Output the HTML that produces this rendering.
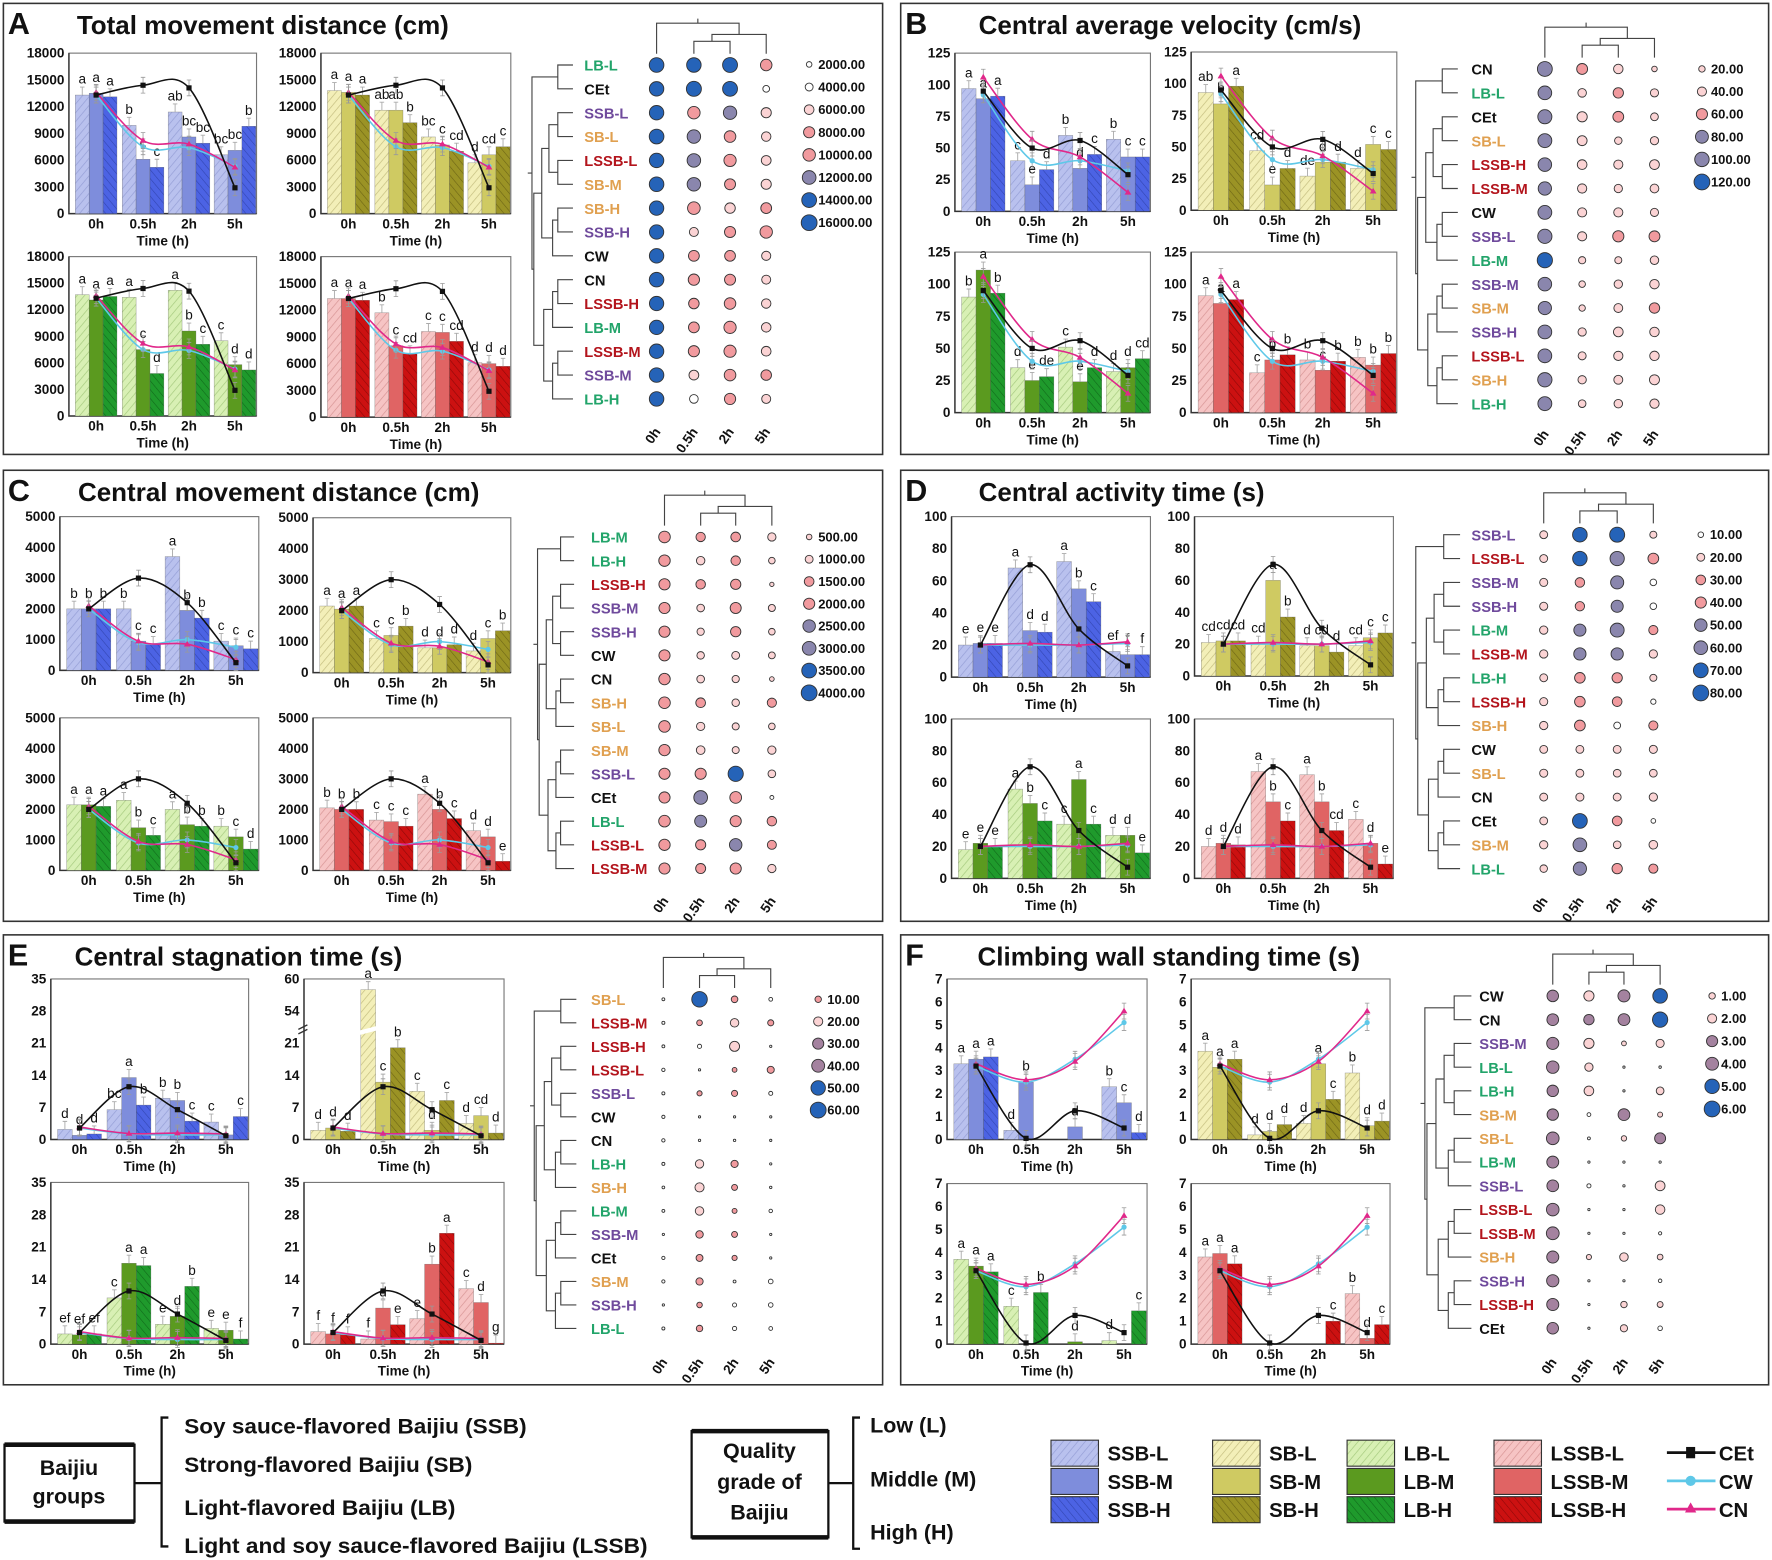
<!DOCTYPE html>
<html><head><meta charset="utf-8">
<style>
html,body{margin:0;padding:0;background:#fff;}
svg{display:block;font-family:"Liberation Sans",Arial,sans-serif;}
</style></head>
<body>
<svg id="fig" width="1772" height="1560" viewBox="0 0 1568 1380" preserveAspectRatio="none" xmlns="http://www.w3.org/2000/svg">
<defs id="defs"></defs>
<rect x="0" y="0" width="1568" height="1380" fill="#fff"></rect>
</svg>
<script>
// ===== DATA =====
const A_ticks=[0,3000,6000,9000,12000,15000,18000];
const A_cet=[13300,14400,14100,2900];
const A_cw=[13300,7500,7400,5300];
const A_cn=[13600,8200,7800,5200];
const A_ssb=[[13300,9900,11400,6600],[13500,6100,8600,7100],[13100,5200,7900,9800]];
const A_ssb_let=[["a","b","ab","bc"],["a","c","bc","bc"],["a","c","bc","b"]];
const A_sb=[[13800,11600,8600,5700],[13600,11600,7700,6600],[13300,10200,7000,7500]];
const A_sb_let=[["a","ab","bc","d"],["a","ab","c","cd"],["a","b","cd","c"]];
const A_lb=[[13700,13400,14200,8500],[13100,7500,9600,5800],[13500,4800,8100,5200]];
const A_lb_let=[["a","a","a","c"],["a","c","b","d"],["a","d","c","d"]];
const A_lssb=[[13300,11700,9600,6100],[13300,8000,9500,6000],[13100,7100,8500,5700]];
const A_lssb_let=[["a","b","c","d"],["a","c","c","d"],["a","cd","cd","d"]];
const A_order=["LB-L","CEt","SSB-L","SB-L","LSSB-L","SB-M","SB-H","SSB-H","CW","CN","LSSB-H","LB-M","LSSB-M","SSB-M","LB-H"];
const A_levels=[2000,4000,6000,8000,10000,12000,14000,16000];

const B_ticks=[0,25,50,75,100,125];
const B_cet=[95,50,56,29];
const B_cw=[92,40,40,32];
const B_cn=[106,57,43,15];
const B_ssb=[[97,40,60,57],[89,21,34,43],[91,33,45,43]];
const B_ssb_let=[["a","c","b","b"],["a","e","d","c"],["a","d","c","c"]];
const B_sb=[[93,47,27,33],[84,20,38,52],[98,33,38,48]];
const B_sb_let=[["ab","cd","de","d"],["b","e","d","c"],["a","d","d","c"]];
const B_lb=[[90,35,51,32],[111,25,24,35],[93,28,35,42]];
const B_lb_let=[["b","d","c","d"],["a","e","e","d"],["b","de","d","cd"]];
const B_lssb=[[91,31,41,43],[85,41,33,37],[88,45,40,46]];
const B_lssb_let=[["a","c","b","b"],["a","b","c","b"],["a","b","b","b"]];
const B_order=["CN","LB-L","CEt","SB-L","LSSB-H","LSSB-M","CW","SSB-L","LB-M","SSB-M","SB-M","SSB-H","LSSB-L","SB-H","LB-H"];
const B_levels=[20,40,60,80,100,120];

const C_ticks=[0,1000,2000,3000,4000,5000];
const C_cet=[2000,3000,2200,250];
const C_cw=[2000,900,1000,750];
const C_cn=[2100,950,850,350];
const C_ssb=[[2000,2000,3700,950],[2000,950,1950,800],[2000,850,1700,700]];
const C_ssb_let=[["b","b","a","c"],["b","c","b","c"],["b","c","b","c"]];
const C_sb=[[2150,1100,800,700],[2050,1200,800,1100],[2150,1500,900,1350]];
const C_sb_let=[["a","c","d","d"],["a","c","d","c"],["a","b","d","b"]];
const C_lb=[[2150,2300,2000,1450],[2150,1400,1500,1100],[2100,1150,1450,700]];
const C_lb_let=[["a","a","a","b"],["a","b","b","c"],["a","c","b","d"]];
const C_lssb=[[2050,1650,2500,1300],[2000,1600,2000,1100],[2000,1450,1700,300]];
const C_lssb_let=[["b","c","a","d"],["b","c","b","d"],["b","c","c","e"]];
const C_order=["LB-M","LB-H","LSSB-H","SSB-M","SSB-H","CW","CN","SB-H","SB-L","SB-M","SSB-L","CEt","LB-L","LSSB-L","LSSB-M"];
const C_levels=[500,1000,1500,2000,2500,3000,3500,4000];

const D_ticks=[0,20,40,60,80,100];
const D_cet=[20,70,30,7];
const D_cw=[20,20,20,21];
const D_cn=[20,21,20,22];
const D_ssb=[[20,68,72,16],[21,29,55,14],[21,28,47,14]];
const D_ssb_let=[["e","a","a","ef"],["e","d","b","f"],["e","d","c","f"]];
const D_sb=[[21,20,19,19],[22,60,19,24],[22,37,15,27]];
const D_sb_let=[["cd","cd","d","cd"],["cd","a","cd","c"],["cd","b","d","c"]];
const D_lb=[[18,56,34,27],[22,47,62,27],[20,36,34,16]];
const D_lb_let=[["e","a","c","d"],["e","b","a","d"],["e","c","c","e"]];
const D_lssb=[[20,67,65,37],[22,48,48,22],[21,36,30,9]];
const D_lssb_let=[["d","a","a","c"],["d","b","b","d"],["d","c","cd","e"]];
const D_order=["SSB-L","LSSB-L","SSB-M","SSB-H","LB-M","LSSB-M","LB-H","LSSB-H","SB-H","CW","SB-L","CN","CEt","SB-M","LB-L"];
const D_levels=[10,20,30,40,50,60,70,80];

const E_ticks=[0,7,14,21,28,35];
const E_ticks_broken=[0,7,14,21,54,60];
const E_cet=[2.5,11.5,6.5,0.8];
const E_cw=[2.5,1.2,1.0,1.0];
const E_cn=[2.7,1.3,1.4,1.2];
const E_ssb=[[2.2,6.5,9,3.8],[0.9,13.5,8.5,1.0],[1.2,7.5,4,5]];
const E_ssb_let=[["d","bc","b","c"],["d","a","b",""],["d","b","c","c"]];
const E_sb=[[2,58,10.5,3.5],[2.5,12.5,2,5.2],[1.8,20,8.5,1.4]];
const E_sb_let=[["d","a","c","d"],["d","c","d","cd"],["d","b","c","d"]];
const E_lb=[[2.2,10,4.3,3.4],[2,17.5,6,3],[2.2,17,12.5,1.1]];
const E_lb_let=[["ef","c","e","e"],["ef","a","d","e"],["ef","a","b","f"]];
const E_lssb=[[2.7,1.1,5.5,12],[2.2,7.8,17.3,9],[2,4.2,24,0.2]];
const E_lssb_let=[["f","f","e","c"],["f","d","b","d"],["f","e","a","g"]];
const E_order=["SB-L","LSSB-M","LSSB-H","LSSB-L","SSB-L","CW","CN","LB-H","SB-H","LB-M","SSB-M","CEt","SB-M","SSB-H","LB-L"];
const E_levels=[10,20,30,40,50,60];

const F_ticks=[0,1,2,3,4,5,6,7];
const F_cet=[3.2,0.05,1.25,0.5];
const F_cw=[3.2,2.5,3.5,5.1];
const F_cn=[3.3,2.6,3.4,5.6];
const F_ssb=[[3.3,0.4,0,2.3],[3.5,2.5,0.55,1.6],[3.6,0,0,0.3]];
const F_ssb_let=[["a","d","","b"],["a","b","d","c"],["a","","","d"]];
const F_sb=[[3.85,0.2,0.7,2.9],[3.15,0.35,3.3,0.6],[3.5,0.65,1.75,0.8]];
const F_sb_let=[["a","d","d","b"],["a","d","a","d"],["a","d","c","d"]];
const F_lb=[[3.7,1.65,0,0.15],[3.4,0,0.1,0],[3.15,2.25,0,1.45]];
const F_lb_let=[["a","c","","d"],["a","","d",""],["a","b","","c"]];
const F_lssb=[[3.8,0,0,2.2],[3.95,0,0,0.25],[3.5,0,1.0,0.85]];
const F_lssb_let=[["a","","","b"],["a","","","d"],["a","","c","c"]];
const F_order=["CW","CN","SSB-M","LB-L","LB-H","SB-M","SB-L","LB-M","SSB-L","LSSB-L","LSSB-M","SB-H","SSB-H","LSSB-H","CEt"];
const F_levels=[1,2,3,4,5,6];

const TIMES=["0h","0.5h","2h","5h"];

// ===== STYLE CONSTANTS =====
const NS="http://www.w3.org/2000/svg";
const svg=document.getElementById('fig');
const defs=document.getElementById('defs');
const FILL={SSB:['#b9c1ee','#7e8ddc','#4c63e4'],SB:['#f3efb8','#cfca62','#9b9325'],LB:['#d8f0b4','#5b9a1f','#1f9a2c'],LSSB:['#f6c4c4','#e06464','#cc1111']};
const HATCH={SSB:['#8c95d0','', '#2a3ca0'],SB:['#b8b070','','#5e5810'],LB:['#98c070','','#0c5a14'],LSSB:['#d08888','','#7a0606']};
const GCOL={SSB:'#6f4a9c',SB:'#e0a050',LB:'#22a46a',LSSB:'#b3141c',C:'#111'};
const W='#ffffff',LP='#fbd3d4',PK='#f19a9e',PU='#8a86ad',MV='#a4829f',BL='#2563b8';
const LEVCOL={A:[W,W,LP,PK,PK,PU,BL,BL],B:[LP,LP,PK,PU,PU,BL],C:[LP,LP,PK,PK,PU,PU,BL,BL],D:[W,LP,PK,PK,PU,PU,BL,BL],E:[PK,LP,MV,MV,BL,BL],F:[LP,LP,MV,MV,BL,BL]};

function mk(tag,parent){const e=document.createElementNS(NS,tag);(parent||svg).appendChild(e);return e;}
function at(e,o){for(const k in o)e.setAttribute(k,o[k]);return e;}
function txt(parent,x,y,s,size,opts){const t=mk('text',parent);at(t,{x:x,y:y,'font-size':size,'font-weight':'bold',fill:'#111'});if(opts)at(t,opts);t.textContent=s;return t;}

['SSB','SB','LB','LSSB'].forEach(g=>{
  [0,2].forEach(i=>{
    const p=mk('pattern',defs);at(p,{id:'h_'+g+i,patternUnits:'userSpaceOnUse',width:5,height:5,patternTransform:i==0?'rotate(40)':'rotate(-40)'});
    const r=mk('rect',p);at(r,{x:0,y:0,width:5,height:5,fill:FILL[g][i]});
    const l=mk('line',p);at(l,{x1:0,y1:0,x2:0,y2:5,stroke:HATCH[g][i],'stroke-width':i==0?1.2:1,'stroke-opacity':0.8});
  });
});
function barFill(g,i){return i==1?FILL[g][1]:'url(#h_'+g+i+')';}

function spline(pts){
  let d='M'+pts[0][0]+','+pts[0][1];
  for(let i=0;i<pts.length-1;i++){
    const p0=pts[Math.max(0,i-1)],p1=pts[i],p2=pts[i+1],p3=pts[Math.min(pts.length-1,i+2)];
    const c1=[p1[0]+(p2[0]-p0[0])/6,p1[1]+(p2[1]-p0[1])/6];
    const c2=[p2[0]-(p3[0]-p1[0])/6,p2[1]-(p3[1]-p1[1])/6];
    d+=' C'+c1[0]+','+c1[1]+' '+c2[0]+','+c2[1]+' '+p2[0]+','+p2[1];
  }
  return d;
}

function drawPlot(parent,rect,ticks,broken,g,vals,lets,cet,cw,cn){
  const [px,py,pw,ph]=rect;
  const ymax=ticks[ticks.length-1];
  const n=ticks.length-1;
  const frac=v=>{
    if(!broken) return v/ymax;
    if(v<=30) return (v/7)/5;
    return (4+(v-54)/6)/5;
  };
  const Y=v=>py+ph-frac(v)*ph;
  const X=i=>px+pw*[0.145,0.395,0.64,0.885][i];
  const bw=pw*0.074;
  const grp=mk('g',parent);
  
  
  const fr=mk('rect',grp);at(fr,{x:px,y:py,width:pw,height:ph,fill:'none',stroke:'#777','stroke-width':1});
  
  
  const ax=mk('path',grp);at(ax,{d:'M'+px+','+py+' V'+(py+ph)+' H'+(px+pw),stroke:'#333','stroke-width':1.3,fill:'none'});
  ticks.forEach((t,k)=>{
    const yy=broken?(py+ph-(k/n)*ph):Y(t);
    const tl=txt(grp,px-4,yy+4,String(t),12,{'text-anchor':'end'});
    
    
  });
  if(broken){
    const by=py+ph*0.3;
    const bm=mk('path',grp);at(bm,{d:'M'+(px-5)+','+(by+2)+' l8,-4 M'+(px-5)+','+(by+6)+' l8,-4',stroke:'#333','stroke-width':1.2,fill:'none'});
    
    
  }
  TIMES.forEach((t,i)=>{
    const xl=txt(grp,X(i),py+ph+13,t,12,{'text-anchor':'middle'});
    
    
  });
  const xt=txt(grp,px+pw/2,py+ph+28,'Time (h)',12,{'text-anchor':'middle'});
  
  
  const err=ymax*0.05;
  for(let s=0;s<3;s++){
    for(let i=0;i<4;i++){
      const v=vals[s][i];
      const bx=X(i)+(s-1)*bw-bw/2;
      const top=Y(v);
      if(v>0){
        const b=mk('rect',grp);at(b,{x:bx,y:top,width:bw,height:py+ph-top,fill:barFill(g,s),stroke:'#555','stroke-width':0.4,'stroke-opacity':0.6});
        
        
        if(broken && v>30){
          const gp=mk('path',grp);at(gp,{d:'M'+(bx-1)+','+(py+ph*0.3+3)+' L'+(bx+bw+1)+','+(py+ph*0.3-1)+' L'+(bx+bw+1)+','+(py+ph*0.3+3)+' L'+(bx-1)+','+(py+ph*0.3+7)+'Z',fill:'#fff'});
        }
        const eb=mk('path',grp);at(eb,{d:'M'+(bx+bw/2)+','+top+' V'+(top-err*ph/ymax)+' M'+(bx+bw/2-2)+','+(top-err*ph/ymax)+' h4',stroke:'#aaa','stroke-width':0.8});
      }
      const L=lets[s][i];
      if(L){
        const lt=txt(grp,bx+bw/2,top-err*ph/ymax-3,L,12,{'text-anchor':'middle','font-weight':'normal'});
        
        
      }
    }
  }
  const series=[[cw,'#5ec8e8','circle','cw'],[cn,'#e0288a','tri','cn'],[cet,'#111','sq','cet']];
  series.forEach(([arr,col,mkr,nm])=>{
    const pts=arr.map((v,i)=>[X(i),Y(v)]);
    const p=mk('path',grp);at(p,{d:spline(pts),stroke:col,'stroke-width':1.4,fill:'none'});
    
    
    pts.forEach(q=>{
      const e=mk('path',grp);at(e,{d:'M'+q[0]+','+(q[1]-7)+' V'+(q[1]+7)+' M'+(q[0]-2)+','+(q[1]-7)+' h4 M'+(q[0]-2)+','+(q[1]+7)+' h4',stroke:'#999','stroke-width':0.7});
      let m;
      if(mkr=='circle'){m=mk('circle',grp);at(m,{cx:q[0],cy:q[1],r:2.3,fill:col});}
      else if(mkr=='tri'){m=mk('path',grp);at(m,{d:'M'+q[0]+','+(q[1]-3)+' l3,5 h-6z',fill:col});}
      else {m=mk('rect',grp);at(m,{x:q[0]-2.3,y:q[1]-2.3,width:4.6,height:4.6,fill:col});}
      
      
    });
  });
}

function drawHeat(parent,h,order,levels,cols,getVals){
  const grp=mk('g',parent);
  
  
  const lmax=levels[levels.length-1];
  const rad=v=>Math.max(1,7*Math.sqrt(Math.max(v,0)/lmax));
  const col=v=>{
    if(v<levels[0]*0.55) return '#fff';
    let best=0,bd=1e18;levels.forEach((l,i)=>{const d=Math.abs(l-v);if(d<bd){bd=d;best=i;}});
    return cols[best];
  };
  order.forEach((name,r)=>{
    const y=h.r0+r*h.dr;
    const g=name.split('-')[0];
    const c=GCOL[g]||GCOL.C;
    const lt=txt(grp,h.lx,y+5,name,13,{fill:c});
    
    
    const vals=getVals(name);
    vals.forEach((v,i)=>{
      const d=mk('circle',grp);at(d,{cx:h.cols[i],cy:y,r:rad(v),fill:col(v),stroke:'#333','stroke-width':0.8});
      
      
    });
  });
  let dp='';
  function node(lo,hi){
    if(lo==hi) return {x:h.d1,y:h.r0+lo*h.dr};
    const mid=(lo==0&&hi-lo>3)?1:Math.floor((lo+hi)/2);
    const a=node(lo,mid),b=node(mid+1,hi);
    const size=hi-lo+1;
    const x=h.d0+(h.d1-h.d0)*(1-Math.log2(size)/Math.log2(16))*0.85;
    dp+='M'+a.x+','+a.y+' H'+x+' V'+b.y+' H'+b.x+' ';
    return {x:x,y:(a.y+b.y)/2};
  }
  const root=node(0,order.length-1);
  dp+='M'+root.x+','+root.y+' H'+(h.d0-3);
  const dd=mk('path',grp);at(dd,{d:dp,stroke:'#444','stroke-width':1,fill:'none'});
  
  
  const b=h.r0-10,c=h.cols;
  const t1=b-11,t2=b-17,t3=b-27;
  const m12=(c[1]+c[2])/2,m3=(m12+c[3])/2,m0=(c[0]+m3)/2;
  const cd='M'+c[1]+','+b+' V'+t1+' H'+c[2]+' V'+b+' M'+m12+','+t1+' V'+t2+' H'+c[3]+' V'+b+' M'+m3+','+t2+' V'+t3+' H'+c[0]+' V'+b+' M'+m0+','+t3+' V'+(t3-4);
  const cdp=mk('path',grp);at(cdp,{d:cd,stroke:'#444','stroke-width':1,fill:'none'});
  
  
  TIMES.forEach((t,i)=>{
    const x=h.cols[i]+4,y=h.cl;
    const tl=txt(grp,x,y,t,12,{'text-anchor':'end',transform:'rotate(-55 '+x+' '+y+')'});
    
    
  });
  levels.forEach((l,i)=>{
    const y=h.g0+i*h.gd;
    const d=mk('circle',grp);at(d,{cx:h.gx,cy:y,r:rad(l),fill:cols[i],stroke:'#333','stroke-width':0.8});
    
    
    const tl=txt(grp,h.gx+8,y+4,l.toFixed(2),11.5);
    
    
  });
}

function panel(id,title,box,titleX,plots,heat,ticks,D){
  const grp=mk('g');
  
  
  const br=mk('rect',grp);at(br,{x:box[0],y:box[1],width:box[2],height:box[3],fill:'none',stroke:'#333','stroke-width':1.4});
  
  
  const pl=txt(grp,box[0]+4,box[1]+27,id,27);
  
  
  const tt=txt(grp,titleX,box[1]+27,title,23);
  
  
  const groups=['SSB','SB','LB','LSSB'];
  groups.forEach((g,k)=>{
    const broken=(id=='E'&&k==1);
    drawPlot(grp,plots[k],broken?E_ticks_broken:ticks,broken,g,D[g][0],D[g][1],D.cet,D.cw,D.cn);
  });
  drawHeat(grp,heat,D.order,D.levels,LEVCOL[id],name=>{
    if(name=='CEt')return D.cet; if(name=='CW')return D.cw; if(name=='CN')return D.cn;
    const [g,q]=name.split('-');return D[g][0][{L:0,M:1,H:2}[q]];
  });
}

panel('A','Total movement distance (cm)',[3,3,778,399],68,
 [[61,47,166,142],[284,47,168,142],[61,227,166,141],[284,227,168,142]],
 {d0:470,d1:507,lx:517,cols:[581,614,646,678],r0:57.5,dr:21.1,gx:716,g0:57,gd:20,cl:382},A_ticks,
 {SSB:[A_ssb,A_ssb_let],SB:[A_sb,A_sb_let],LB:[A_lb,A_lb_let],LSSB:[A_lssb,A_lssb_let],cet:A_cet,cw:A_cw,cn:A_cn,order:A_order,levels:A_levels});
panel('B','Central average velocity (cm/s)',[797,3,768,399],866,
 [[845,47,173,140],[1054,46,182,140],[845,223,173,142],[1054,223,182,142]],
 {d0:1252,d1:1290,lx:1302,cols:[1367,1400,1432,1464],r0:61,dr:21.15,gx:1506,g0:61,gd:20,cl:384},B_ticks,
 {SSB:[B_ssb,B_ssb_let],SB:[B_sb,B_sb_let],LB:[B_lb,B_lb_let],LSSB:[B_lssb,B_lssb_let],cet:B_cet,cw:B_cw,cn:B_cn,order:B_order,levels:B_levels});
panel('C','Central movement distance (cm)',[3,416,778,399],69,
 [[53,457,176,136],[277,458,175,137],[53,635,176,135],[277,635,175,135]],
 {d0:475,d1:508,lx:523,cols:[588,620,651,683],r0:475,dr:20.95,gx:716,g0:475,gd:19.7,cl:797},C_ticks,
 {SSB:[C_ssb,C_ssb_let],SB:[C_sb,C_sb_let],LB:[C_lb,C_lb_let],LSSB:[C_lssb,C_lssb_let],cet:C_cet,cw:C_cw,cn:C_cn,order:C_order,levels:C_levels});
panel('D','Central activity time (s)',[797,416,768,399],866,
 [[842,457,176,142],[1057,457,176,141],[842,636,176,141],[1057,636,176,141]],
 {d0:1252,d1:1292,lx:1302,cols:[1366,1398,1431,1463],r0:473,dr:21.1,gx:1505,g0:473,gd:20,cl:797},D_ticks,
 {SSB:[D_ssb,D_ssb_let],SB:[D_sb,D_sb_let],LB:[D_lb,D_lb_let],LSSB:[D_lssb,D_lssb_let],cet:D_cet,cw:D_cw,cn:D_cn,order:D_order,levels:D_levels});
panel('E','Central stagnation time (s)',[3,827,778,398],66,
 [[45,866,175,142],[269,866,177,142],[45,1046,175,143],[269,1046,177,143]],
 {d0:472,d1:510,lx:523,cols:[587,619,650,682],r0:884,dr:20.8,gx:724,g0:884,gd:19.6,cl:1205},E_ticks,
 {SSB:[E_ssb,E_ssb_let],SB:[E_sb,E_sb_let],LB:[E_lb,E_lb_let],LSSB:[E_lssb,E_lssb_let],cet:E_cet,cw:E_cw,cn:E_cn,order:E_order,levels:E_levels});
panel('F','Climbing wall standing time (s)',[797,827,768,398],865,
 [[838,866,177,142],[1054,866,176,142],[838,1047,177,142],[1054,1047,176,142]],
 {d0:1260,d1:1302,lx:1309,cols:[1374,1406,1437,1469],r0:881,dr:21,gx:1515,g0:881,gd:20,cl:1205},F_ticks,
 {SSB:[F_ssb,F_ssb_let],SB:[F_sb,F_sb_let],LB:[F_lb,F_lb_let],LSSB:[F_lssb,F_lssb_let],cet:F_cet,cw:F_cw,cn:F_cn,order:F_order,levels:F_levels});

const lg=mk('g');


function line(d,w){const p=mk('path',lg);at(p,{d:d,stroke:'#111','stroke-width':w||2,fill:'none'});return p;}
const b1=mk('rect',lg);at(b1,{x:4,y:1278,width:115,height:68,fill:'#fff',stroke:'#111','stroke-width':2});


line('M4,1278 H119 M4,1346 H119',4);
txt(lg,61,1305,'Baijiu',19,{'text-anchor':'middle'});
txt(lg,61,1330,'groups',19,{'text-anchor':'middle'});
line('M119,1312 H143');
line('M149,1254 H143 V1368 H149');
const gtexts=[['Soy sauce-flavored Baijiu (SSB)',1268,303],['Strong-flavored Baijiu (SB)',1302,255],['Light-flavored Baijiu (LB)',1340,240],['Light and soy sauce-flavored Baijiu (LSSB)',1374,410]];
gtexts.forEach(([s,y,w])=>{const t=txt(lg,163,y,s,19,{textLength:w,lengthAdjust:'spacingAndGlyphs'});

});
const b2=mk('rect',lg);at(b2,{x:612,y:1266,width:121,height:94,fill:'#fff',stroke:'#111','stroke-width':2});


line('M612,1266 H733 M612,1360 H733',4);
txt(lg,672,1290,'Quality',19,{'text-anchor':'middle'});
txt(lg,672,1317,'grade of',19,{'text-anchor':'middle'});
txt(lg,672,1344,'Baijiu',19,{'text-anchor':'middle'});
line('M733,1312 H755');
line('M761,1254 H755 V1370 H761');
[['Low (L)',1267],['Middle (M)',1315],['High (H)',1362]].forEach(([s,y])=>{const t=txt(lg,770,y,s,19);

});
const swX={SSB:930,SB:1073,LB:1192,LSSB:1322};
['SSB','SB','LB','LSSB'].forEach(g=>{
  ['L','M','H'].forEach((q,i)=>{
    const y=1274+i*25;
    const r=mk('rect',lg);at(r,{x:swX[g],y:y,width:42,height:23,fill:barFill(g,i),stroke:'#333','stroke-width':1});
    
    
    const t=txt(lg,swX[g]+50,y+18,g+'-'+q,18);
    
    
  });
});
[['CEt','#111','sq'],['CW','#5ec8e8','circle'],['CN','#e0288a','tri']].forEach(([s,c,m],i)=>{
  const y=1285+i*25;
  const l=mk('path',lg);at(l,{d:'M1475,'+y+' H1518',stroke:c,'stroke-width':2.5});
  
  
  let mm;
  if(m=='sq'){mm=mk('rect',lg);at(mm,{x:1492,y:y-5,width:8,height:10,fill:c});}
  else if(m=='circle'){mm=mk('circle',lg);at(mm,{cx:1496,cy:y,r:4.5,fill:c});}
  else {mm=mk('path',lg);at(mm,{d:'M1496,'+(y-6)+' l5,9 h-10z',fill:c});}
  const t=txt(lg,1521,y+7,s,18);
  
  
});
</script>
</body></html>
